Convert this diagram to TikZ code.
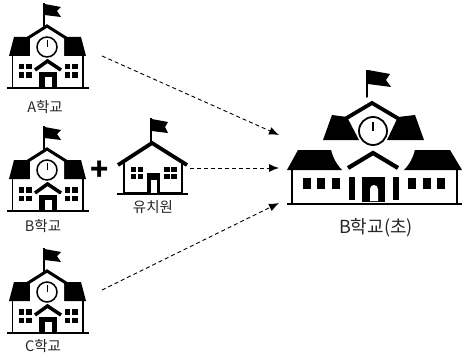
\documentclass[tikz,border=0pt]{standalone}
\usepackage{fontspec}
\setmainfont{Noto Sans CJK KR}
\usetikzlibrary{arrows.meta}
\tikzset{
    wallline/.style={draw=black, line width=1.8pt, fill=white},
    schoollabel/.style={font=\fontsize{14.5}{14.5}\selectfont, text=black!85, inner sep=0pt},
    joinarrow/.style={dash pattern=on 4pt off 3pt, line width=0.9pt, -{Latex[length=10pt,width=8pt]}},
    schoola/.pic={
        \draw[line width=2pt] (43.5, 27) -- (43.5, 3);
        \fill (44.5, 4) -- (61, 7) -- (57, 11) -- (61, 17) -- (44.5, 15) -- cycle;
        \draw[wallline] (12.5, 55) rectangle (83, 88);
        \fill (9, 56) -- (14, 37) -- (81, 37) -- (86, 56) -- cycle;
        \fill[white] (30, 37) -- (47, 28) -- (64, 37) -- (64, 58) -- (30, 58) -- cycle;
        \draw[line width=3pt, miter limit=2] (28, 38) -- (47, 26) -- (66, 38);
        \draw[line width=1.5pt, fill=white] (47, 47) circle (10);
        \draw[line width=0.9pt] (47, 47) -- (47, 40);
        \draw[line width=3.5pt] (35, 70) -- (47.5, 61) -- (61, 70);
        \fill (39, 72) rectangle (57, 88);
        \fill[white] (45, 77) rectangle (51.5, 87);
        \foreach \wx in {18.5, 26, 64.5, 72}
            \foreach \wy in {64, 72.5}
                \fill (\wx, \wy) rectangle ++(5.5, 5.5);
        \draw[line width=2pt] (7, 88) -- (89, 88);
    },
    kinderhouse/.pic={
        \draw[line width=2pt] (151, 142) -- (151, 118);
        \fill (151.5, 119) -- (168, 122) -- (165, 127) -- (168, 133) -- (151.5, 131) -- cycle;
        \draw[wallline] (124.3, 160) -- (124.3, 193) -- (181.7, 193) -- (181.7, 160);
        \draw[line width=3.8pt] (118, 165) -- (152, 143) -- (187, 165);
        \fill (146.7, 173) rectangle (160, 193);
        \fill[white] (151, 180) rectangle (156.5, 193);
        \foreach \wx in {130.5, 137.5, 164, 171}
            \foreach \wy in {167, 173.5}
                \fill (\wx, \wy) rectangle ++(5.5, 5);
        \draw[line width=2.2pt] (117, 194) -- (188, 194);
    },
    schoolb/.pic={
        \draw[line width=2.6pt] (367, 102) -- (367, 70);
        \fill (368, 70) -- (390, 74) -- (386, 80) -- (391, 87) -- (368, 84) -- cycle;
        \draw[wallline] (292, 168) rectangle (457, 204);
        \fill (298, 150) -- (287, 170) -- (462, 170) -- (450, 150) -- cycle;
        \fill[white] (373, 140) circle (43);
        \fill (332, 115) -- (323, 140) -- (359, 140) -- (347, 117) -- cycle;
        \fill (415, 115) -- (424, 140) -- (387, 140) -- (398, 117) -- cycle;
        \draw[line width=3.8pt] (345, 119) -- (372, 103) -- (399, 119);
        \draw[line width=1.8pt, fill=white] (373, 131) circle (14);
        \draw[line width=1.3pt] (373, 131) -- (373, 122);
        \draw[line width=4.2pt] (348, 168) -- (373, 153) -- (398, 168);
        \fill (349, 177) rectangle (354.5, 200);
        \fill (393, 177) rectangle (398.5, 200);
        \fill (362, 177) rectangle (385, 202);
        \fill[white] (370, 189) arc (180:360:4) -- (378, 201) -- (370, 201) -- cycle;
        \foreach \wx in {303, 317, 332, 408, 423, 437}
            \fill (\wx, 178) rectangle ++(8, 11);
        \draw[line width=2.4pt] (287, 204) -- (462, 204);
    }
}
\begin{document}
\begin{tikzpicture}[x=1pt, y=-1pt]
    \useasboundingbox (0, 0) rectangle (462, 358);
    \pic at (0, 0) {schoola};
    \pic at (0, 123) {schoola};
    \pic at (0, 245) {schoola};
    \pic at (0, 0) {kinderhouse};
    \pic at (0, 0) {schoolb};

    \node[schoollabel] (alabel) at (45, 107) {A학교};
    \node[schoollabel] (blabel) at (43, 226) {B학교};
    \node[schoollabel] (clabel) at (43, 346) {C학교};
    \node[schoollabel] (klabel) at (153, 207) {유치원};
    \node[schoollabel, font=\fontsize{18}{18}\selectfont] (mergedlabel) at (376, 228) {B학교(초)};
    \node[inner sep=0pt, font=\fontsize{30}{30}\selectfont\bfseries] (plus) at (100, 171) {+};

    \coordinate (aout) at (102, 56);
    \coordinate (kout) at (190, 168);
    \coordinate (cout) at (102, 290);
    \coordinate (ain) at (279, 135);
    \coordinate (kin) at (279, 168);
    \coordinate (cin) at (279, 203);
    \draw[joinarrow] (aout) -- (ain);
    \draw[joinarrow] (kout) -- (kin);
    \draw[joinarrow] (cout) -- (cin);
\end{tikzpicture}
\end{document}
